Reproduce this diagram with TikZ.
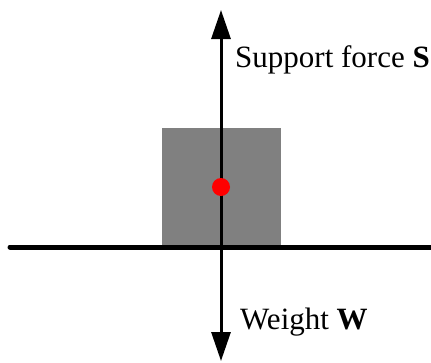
\documentclass[tikz,border=0pt]{standalone}
\usepackage{fontspec}
\setmainfont{Liberation Serif}
\usetikzlibrary{arrows.meta,positioning}
\definecolor{blockgray}{HTML}{808080}
\definecolor{cgred}{HTML}{FF0000}

\begin{document}
\begin{tikzpicture}[
      x=1pt,y=-1pt,
      >={Triangle[length=29pt,width=19pt]},
      block/.style={rectangle,fill=blockgray,inner sep=0pt,minimum width=119pt,minimum height=119pt},
      cg/.style={circle,fill=cgred,inner sep=0pt,minimum size=18pt},
      ground/.style={line width=5pt,line cap=round},
      force/.style={line width=3pt},
      lbl/.style={font=\fontsize{31}{37}\selectfont,anchor=base west,inner sep=0pt}]
    \useasboundingbox (0,0) rectangle (431,362);
    \node[block] (block) at (221.5,187.5) {};
    \coordinate (gl) at (10,247);
    \coordinate (gr) at (433,247);
    \coordinate (up) at (221,10);
    \coordinate (down) at (221,361);
    \draw[ground] (gl) -- (gr);
    \draw[<->,force] (down) -- (up);
    \node[cg] (cg) at (221,187) {};
    \node[lbl] (sup) at (235,67) {Support force \textbf{S}};
    \node[lbl] (wgt) at (240,329) {Weight \textbf{W}};
  \end{tikzpicture}
\end{document}
